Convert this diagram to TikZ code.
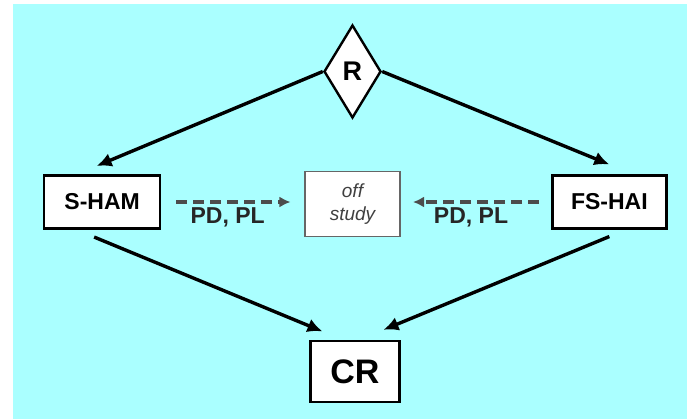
\documentclass[tikz,border=0pt]{standalone}
\usepackage{fontspec}
\setmainfont{Liberation Sans}
\usetikzlibrary{arrows.meta, positioning, shapes.geometric}
\definecolor{panelbg}{HTML}{AAFFFF}
\tikzset{
  box/.style={draw, line width=1.3pt, fill=white, inner sep=0pt, font=\bfseries\fontsize{11.5}{13}\selectfont},
  offbox/.style={draw=black!60, line width=0.8pt, fill=white, inner sep=0pt, align=center, text=black!75, font=\itshape\fontsize{9.5}{11.5}\selectfont},
  dec/.style={diamond, aspect=0.6, draw, line width=1.2pt, fill=white, inner sep=0pt, minimum width=28.5pt, minimum height=46.5pt, font=\bfseries\fontsize{13.5}{15}\selectfont},
  arr/.style={-{Latex[length=7.5pt, width=7pt]}, line width=1.7pt},
  darr/.style={-{Latex[length=5.5pt, width=5.5pt]}, line width=1.6pt, black!70, dash pattern=on 5.5pt off 3pt},
  lbl/.style={text=black!85, inner sep=0pt, font=\bfseries\fontsize{11.5}{13}\selectfont},
}
\begin{document}
\begin{tikzpicture}
    \path[use as bounding box] (-176.25pt,35.75pt) rectangle (167.25pt,-173.75pt);
    \fill[panelbg] (-169.75pt,33.75pt) rectangle (167.25pt,-173.75pt);
    % randomisation and arms
    \node[dec] (r) at (0,0) {R};
    \node[offbox, minimum width=47.75pt, minimum height=32.5pt, below=25.75pt of r] (off) {off\\study};
    \node[box, minimum width=58pt, minimum height=26.25pt, left=71.25pt of off, yshift=1pt] (sham) {S-HAM};
    \node[box, minimum width=57pt, minimum height=26.25pt, right=75pt of off, yshift=1pt] (fshai) {FS-HAI};
    \node[box, minimum width=44.5pt, minimum height=30.5pt, below=51.25pt of off, xshift=1.25pt, font=\bfseries\fontsize{17}{19}\selectfont] (cr) {CR};
    % connectors
    \draw[arr] (r.west) -- ([xshift=-2.75pt, yshift=4.25pt]sham.north);
    \draw[arr] (r.east) -- ([yshift=5pt]fshai.north);
    \draw[arr] ([xshift=-4pt, yshift=-3.75pt]sham.south) -- ([xshift=-16.25pt, yshift=4.2pt]cr.north);
    \draw[arr] ([yshift=-3.5pt]fshai.south) -- ([xshift=14.25pt, yshift=5pt]cr.north);
    \draw[darr, shorten <=7.5pt, shorten >=6.75pt] (sham.east) -- (sham.east -| off.west)
      node[lbl, midway, xshift=-2.5pt, yshift=-7.5pt] {PD, PL};
    \draw[darr, shorten <=6pt, shorten >=6pt] (fshai.west) -- (fshai.west -| off.east)
      node[lbl, midway, xshift=-2.5pt, yshift=-7.5pt] {PD, PL};
\end{tikzpicture}
\end{document}
